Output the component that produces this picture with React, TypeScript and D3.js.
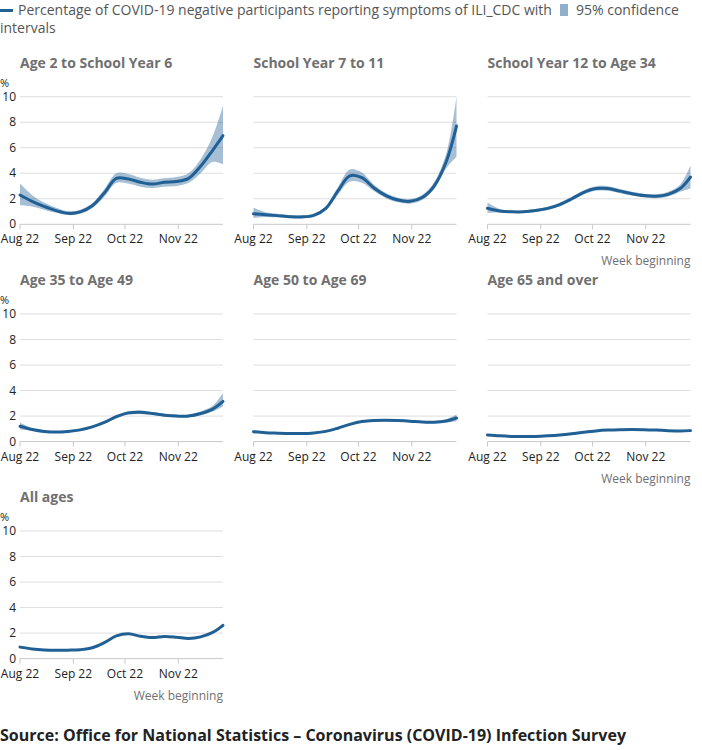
import React from "react";
import * as d3 from "d3";

const weekDates = [
  "2022-08-01", "2022-08-08", "2022-08-15", "2022-08-22", "2022-08-29",
  "2022-09-05", "2022-09-12", "2022-09-19", "2022-09-26", "2022-10-03",
  "2022-10-10", "2022-10-17", "2022-10-24", "2022-10-31", "2022-11-07",
  "2022-11-14", "2022-11-21", "2022-11-27",
];

const panelTitles = [
  "Age 2 to School Year 6",
  "School Year 7 to 11",
  "School Year 12 to Age 34",
  "Age 35 to Age 49",
  "Age 50 to Age 69",
  "Age 65 and over",
  "All ages",
];

const age2toY6 = [2.3, 1.8, 1.4, 1.07, 0.86, 0.97, 1.45, 2.45, 3.6, 3.55, 3.3, 3.15, 3.3, 3.35, 3.6, 4.55, 5.8, 6.95];
const age2toY6Low = [1.5, 1.4, 1.15, 0.9, 0.72, 0.82, 1.25, 2.15, 3.25, 3.2, 2.95, 2.85, 2.95, 3.0, 3.25, 4.0, 4.9, 4.7];
const age2toY6High = [3.2, 2.3, 1.7, 1.3, 1.02, 1.15, 1.65, 2.75, 4.0, 3.95, 3.65, 3.5, 3.6, 3.7, 4.0, 5.1, 6.9, 9.3];

const y7to11 = [0.82, 0.75, 0.68, 0.6, 0.58, 0.7, 1.25, 2.6, 3.8, 3.65, 2.85, 2.25, 1.9, 1.8, 2.1, 3.0, 4.9, 7.7];
const y7to11Low = [0.5, 0.58, 0.55, 0.5, 0.48, 0.58, 1.08, 2.3, 3.35, 3.25, 2.6, 2.05, 1.72, 1.62, 1.9, 2.75, 4.4, 5.3];
const y7to11High = [1.3, 0.95, 0.82, 0.72, 0.7, 0.82, 1.42, 2.9, 4.3, 4.05, 3.1, 2.45, 2.08, 1.98, 2.3, 3.3, 5.5, 10.0];

const y12to34 = [1.26, 1.05, 0.98, 0.98, 1.08, 1.25, 1.55, 2.0, 2.5, 2.8, 2.8, 2.6, 2.4, 2.25, 2.2, 2.35, 2.8, 3.7];
const y12to34Low = [0.9, 0.92, 0.88, 0.88, 0.97, 1.13, 1.42, 1.85, 2.33, 2.62, 2.62, 2.44, 2.25, 2.1, 2.05, 2.18, 2.55, 2.8];
const y12to34High = [1.7, 1.2, 1.08, 1.08, 1.19, 1.37, 1.68, 2.15, 2.67, 2.98, 2.98, 2.76, 2.55, 2.4, 2.36, 2.55, 3.1, 4.6];

const a35to49 = [1.2, 0.95, 0.8, 0.75, 0.8, 0.92, 1.15, 1.5, 1.95, 2.25, 2.3, 2.2, 2.07, 2.0, 2.0, 2.2, 2.55, 3.15];
const a35to49Low = [0.95, 0.85, 0.72, 0.68, 0.72, 0.84, 1.06, 1.4, 1.83, 2.12, 2.17, 2.08, 1.96, 1.9, 1.9, 2.07, 2.35, 2.75];
const a35to49High = [1.5, 1.06, 0.88, 0.82, 0.88, 1.0, 1.25, 1.6, 2.08, 2.38, 2.43, 2.32, 2.18, 2.1, 2.1, 2.35, 2.8, 3.8];

const a50to69 = [0.78, 0.7, 0.66, 0.63, 0.63, 0.68, 0.8, 1.05, 1.35, 1.57, 1.66, 1.68, 1.65, 1.6, 1.53, 1.52, 1.62, 1.85];
const a50to69Low = [0.68, 0.64, 0.61, 0.58, 0.58, 0.63, 0.74, 0.98, 1.27, 1.49, 1.58, 1.6, 1.57, 1.52, 1.45, 1.43, 1.5, 1.6];
const a50to69High = [0.9, 0.76, 0.71, 0.68, 0.68, 0.73, 0.86, 1.12, 1.43, 1.65, 1.74, 1.76, 1.73, 1.68, 1.61, 1.62, 1.76, 2.13];

const a65plus = [0.52, 0.45, 0.4, 0.39, 0.4, 0.45, 0.52, 0.62, 0.74, 0.84, 0.9, 0.93, 0.94, 0.93, 0.9, 0.86, 0.84, 0.86];
const a65plusLow = [0.46, 0.41, 0.37, 0.36, 0.37, 0.42, 0.49, 0.58, 0.7, 0.8, 0.86, 0.89, 0.9, 0.89, 0.86, 0.82, 0.79, 0.77];
const a65plusHigh = [0.6, 0.49, 0.43, 0.42, 0.43, 0.48, 0.55, 0.66, 0.78, 0.88, 0.94, 0.97, 0.98, 0.97, 0.94, 0.9, 0.9, 0.97];

const allAges = [0.9, 0.76, 0.68, 0.65, 0.66, 0.7, 0.85, 1.25, 1.78, 1.95, 1.75, 1.65, 1.74, 1.68, 1.58, 1.7, 2.05, 2.6];
const allAgesLow = [0.84, 0.73, 0.66, 0.63, 0.64, 0.68, 0.82, 1.21, 1.73, 1.9, 1.71, 1.61, 1.7, 1.64, 1.54, 1.65, 1.97, 2.45];
const allAgesHigh = [0.97, 0.79, 0.7, 0.67, 0.68, 0.72, 0.88, 1.29, 1.83, 2.0, 1.79, 1.69, 1.78, 1.72, 1.62, 1.75, 2.13, 2.78];

const seriesValues = [age2toY6, y7to11, y12to34, a35to49, a50to69, a65plus, allAges];
const seriesLow = [age2toY6Low, y7to11Low, y12to34Low, a35to49Low, a50to69Low, a65plusLow, allAgesLow];
const seriesHigh = [age2toY6High, y7to11High, y12to34High, a35to49High, a50to69High, a65plusHigh, allAgesHigh];

const xTickDates = ["2022-08-01", "2022-09-01", "2022-10-01", "2022-11-01"];
const xTickLabels = ["Aug 22", "Sep 22", "Oct 22", "Nov 22"];
const yTicks = [0, 2, 4, 6, 8, 10];

const legendLineLabel = "Percentage of COVID-19 negative participants reporting symptoms of ILI_CDC with";
const legendBandLabel1 = "95% confidence";
const legendBandLabel2 = "intervals";
const xAxisTitle = "Week beginning";
const sourceText = "Source: Office for National Statistics \u2013 Coronavirus (COVID-19) Infection Survey";

const W = 702;
const H = 750;
const BLUE = "#206095";
const FONT = "'Open Sans', 'Noto Sans', sans-serif";

const colX = [0, 233.5, 467.5];
const rowTop = [96.7, 314, 531];
const plotLeft = 20;
const plotW = 203;
const plotH = 127.6;

const parse = d3.utcParse("%Y-%m-%d");

function Panel({ idx }: { idx: number }) {
  const col = idx % 3;
  const row = Math.floor(idx / 3);
  const x0 = colX[col] + plotLeft;
  const y0 = rowTop[row];
  const x = d3
    .scaleUtc()
    .domain([parse("2022-08-01")!, parse("2022-11-27")!])
    .range([0, plotW]);
  const y = d3.scaleLinear().domain([0, 10]).range([plotH, 0]);
  const pts = weekDates.map((d, i) => ({
    date: parse(d)!,
    v: seriesValues[idx][i],
    lo: seriesLow[idx][i],
    hi: seriesHigh[idx][i],
  }));
  const curve = d3.curveCatmullRom.alpha(0.5);
  const area = d3
    .area<any>()
    .x((d) => x(d.date))
    .y0((d) => y(d.lo))
    .y1((d) => y(d.hi))
    .curve(curve);
  const line = d3
    .line<any>()
    .x((d) => x(d.date))
    .y((d) => y(d.v))
    .curve(curve);
  const showY = col === 0;
  const showWeek = col === 2 || idx === 6;
  return (
    <g>
      <text
        x={x0}
        y={y0 - 29}
        fontFamily={FONT}
        fontWeight={700}
        fontSize={14}
        fill="#707070"
      >
        {panelTitles[idx]}
      </text>
      <g transform={`translate(${x0},${y0})`}>
        {yTicks.map((t) =>
          t === 0 ? null : (
            <line
              key={t}
              x1={0}
              x2={plotW}
              y1={y(t)}
              y2={y(t)}
              stroke="#dedede"
              strokeWidth={1}
            />
          )
        )}
        <line x1={0} x2={plotW} y1={plotH} y2={plotH} stroke="#c8c8c8" strokeWidth={1} />
        {xTickDates.map((d, i) => {
          const xx = x(parse(d)!);
          return (
            <g key={d}>
              <line x1={xx} x2={xx} y1={plotH} y2={plotH + 5} stroke="#c8c8c8" strokeWidth={1} />
              <text
                x={xx}
                y={plotH + 19}
                textAnchor="middle"
                fontFamily={FONT}
                fontSize={12}
                fill="#222222"
              >
                {xTickLabels[i]}
              </text>
            </g>
          );
        })}
        {showY &&
          yTicks.map((t) => (
            <text
              key={t}
              x={-4}
              y={y(t) + 4}
              textAnchor="end"
              fontFamily={FONT}
              fontSize={12}
              fill="#222222"
            >
              {t}
            </text>
          ))}
        {showY && (
          <text x={-20} y={-10} fontFamily={FONT} fontSize={11} fill="#222222">
            %
          </text>
        )}
        <path d={area(pts) || ""} fill={BLUE} fillOpacity={0.4} />
        <path d={line(pts) || ""} fill="none" stroke={BLUE} strokeWidth={3} strokeLinecap="round" />
        {showWeek && (
          <text
            x={plotW}
            y={plotH + 41}
            textAnchor="end"
            fontFamily={FONT}
            fontSize={12}
            fill="#707070"
          >
            {xAxisTitle}
          </text>
        )}
      </g>
    </g>
  );
}

export default function App() {
  return (
    <svg
      width={W}
      height={H}
      viewBox={`0 0 ${W} ${H}`}
      style={{ position: "absolute", left: 0, top: 0, background: "#fff" }}
    >
      <rect x={0} y={0} width={W} height={H} fill="#ffffff" />
      <line x1={0} x2={13} y1={10.5} y2={10.5} stroke={BLUE} strokeWidth={3} />
      <text x={18} y={15} fontFamily={FONT} fontSize={14} fill="#555555">
        {legendLineLabel}
      </text>
      <rect x={560} y={4} width={8} height={12} fill={BLUE} fillOpacity={0.5} />
      <text x={576} y={15} fontFamily={FONT} fontSize={14} fill="#555555">
        {legendBandLabel1}
      </text>
      <text x={0} y={33} fontFamily={FONT} fontSize={14} fill="#555555">
        {legendBandLabel2}
      </text>
      {panelTitles.map((_, i) => (
        <Panel key={i} idx={i} />
      ))}
      <text x={0} y={741} fontFamily={FONT} fontWeight={700} fontSize={16} fill="#222222">
        {sourceText}
      </text>
    </svg>
  );
}
